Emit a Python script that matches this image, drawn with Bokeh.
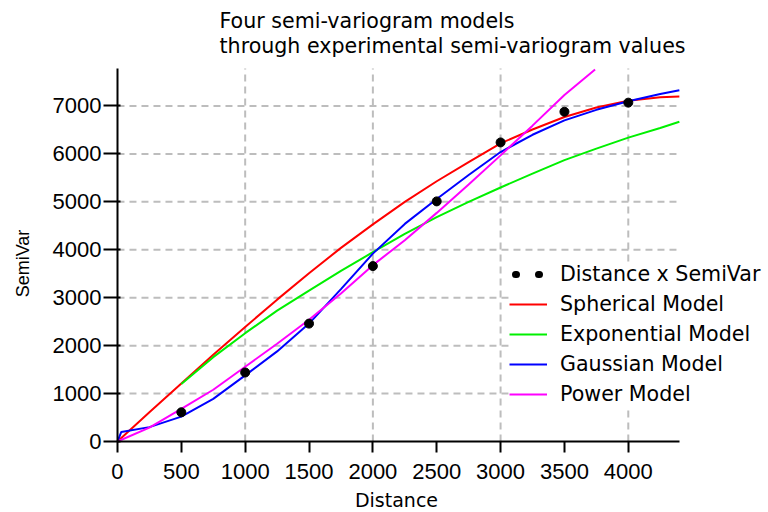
import math

from bokeh.plotting import figure
from bokeh.models import Range1d, FixedTicker, Legend, LegendItem, Label
from bokeh.embed import file_html
from bokeh.resources import INLINE

# Experimental semi-variogram values
lag_distance = [500, 1000, 1500, 2000, 2500, 3000, 3500, 4000]
semivar = [610, 1440, 2460, 3660, 5010, 6240, 6880, 7070]

# Fitted models, sampled along distance
model_x = [0, 250, 500, 750, 1000, 1250, 1500, 1750, 2000, 2250, 2500,
           2750, 3000, 3250, 3500, 3750, 4000, 4250, 4400]
spherical = [0, 610, 1210, 1810, 2390, 2960, 3510, 4040, 4530, 5000, 5430,
             5830, 6220, 6510, 6770, 6970, 7110, 7180, 7200]

exp_x = [500, 750, 1000, 1250, 1500, 1750, 2000, 2250, 2500, 2750, 3000,
         3250, 3500, 3750, 4000, 4250, 4400]
exponential = [1200, 1760, 2260, 2730, 3150, 3560, 3950, 4330, 4680, 5000,
               5300, 5590, 5870, 6110, 6340, 6540, 6670]

gauss_x = [0, 30, 250, 500, 750, 1000, 1250, 1500, 1750, 2000, 2250, 2500,
           2750, 3000, 3250, 3500, 3750, 4000, 4250, 4400]
gaussian = [0, 200, 300, 520, 890, 1380, 1880, 2460, 3180, 3920, 4540, 5060,
            5560, 6040, 6400, 6700, 6920, 7100, 7250, 7330]

power_x = [0, 250, 500, 750, 1000, 1250, 1500, 1750, 2000, 2250, 2500, 2750,
           3000, 3250, 3500, 3740]
power = [0, 290, 680, 1080, 1560, 2040, 2540, 3090, 3680, 4200, 4770, 5360,
         5970, 6590, 7230, 7760]

# Axis extents, ticks and grid positions
X_MAX = 4400
Y_MAX = 7780
x_ticks = [0, 500, 1000, 1500, 2000, 2500, 3000, 3500, 4000]
y_ticks = [0, 1000, 2000, 3000, 4000, 5000, 6000, 7000]
x_grid = [1000, 2000, 3000, 4000]
y_grid = [1000, 2000, 3000, 4000, 5000, 6000, 7000]

title_lines = ["Four semi-variogram models",
               "through experimental semi-variogram values"]
x_label = "Distance"
y_label = "SemiVar"
legend_labels = ["Distance x SemiVar", "Spherical Model", "Exponential Model",
                 "Gaussian Model", "Power Model"]

BITMAP_FONT = "DejaVu Sans"
TICK_FONT = "Liberation Sans"

# The plotting area covers the whole canvas; both axes are pinned to the
# data origin and bounded to the data extents, and the title, axis labels
# and legend are placed as annotations around them.
p = figure(width=768, height=512, output_backend="svg", toolbar_location=None,
           x_range=Range1d(-916, 5098), y_range=Range1d(-1481, 9201),
           min_border_left=0, min_border_right=0,
           min_border_top=0, min_border_bottom=0)
p.title_location = None
p.outline_line_color = None
p.background_fill_color = "white"
p.border_fill_color = "white"
p.xgrid.visible = False
p.ygrid.visible = False

# axes
for ax in (p.xaxis[0], p.yaxis[0]):
    ax.axis_line_width = 2
    ax.axis_line_color = "black"
    ax.major_tick_line_width = 2
    ax.major_tick_line_color = "black"
    ax.minor_tick_line_color = None
    ax.major_label_text_font = TICK_FONT
    ax.major_label_text_font_size = "22px"
    ax.major_label_text_color = "black"

p.xaxis.fixed_location = 0
p.xaxis.bounds = (0, X_MAX)
p.xaxis.ticker = FixedTicker(ticks=x_ticks)
p.xaxis.major_tick_out = 11
p.xaxis.major_tick_in = 0
p.xaxis.major_label_standoff = 11

p.yaxis.fixed_location = 0
p.yaxis.bounds = (0, Y_MAX)
p.yaxis.ticker = FixedTicker(ticks=y_ticks)
p.yaxis.major_tick_out = 14
p.yaxis.major_tick_in = 3
p.yaxis.major_label_standoff = 2

# dashed grid, limited to the axis extents
grid_style = dict(line_color="#bdbdbd", line_width=2, line_dash="7 5",
                  level="underlay")
p.segment(x0=x_grid, y0=[0] * len(x_grid), x1=x_grid, y1=[Y_MAX] * len(x_grid),
          **grid_style)
p.segment(x0=[0] * len(y_grid), y0=y_grid, x1=[X_MAX] * len(y_grid), y1=y_grid,
          **grid_style)

# model curves
r_sph = p.line(model_x, spherical, line_color="#ff0000", line_width=2)
r_exp = p.line(exp_x, exponential, line_color="#00f000", line_width=2)
r_gau = p.line(gauss_x, gaussian, line_color="#0000ff", line_width=2)
r_pow = p.line(power_x, power, line_color="#ff00ff", line_width=2)

# experimental points
p.scatter(lag_distance, semivar, size=9, marker="circle",
          fill_color="black", line_color="black")

# legend key for the points, drawn as two dots (the renderer itself is hidden)
dots_key = p.line(lag_distance, semivar, line_color="black", line_width=7,
                  line_cap="round", line_dash="1 22", line_dash_offset=17,
                  visible=False)

legend = Legend(
    items=[LegendItem(label=legend_labels[0], renderers=[dots_key]),
           LegendItem(label=legend_labels[1], renderers=[r_sph]),
           LegendItem(label=legend_labels[2], renderers=[r_exp]),
           LegendItem(label=legend_labels[3], renderers=[r_gau]),
           LegendItem(label=legend_labels[4], renderers=[r_pow])],
    location=(509, 106), orientation="vertical",
    border_line_color=None, background_fill_color="white",
    background_fill_alpha=1.0, padding=6, margin=0, spacing=6,
    glyph_width=38, glyph_height=24, label_height=24, label_standoff=13,
    label_text_font=BITMAP_FONT, label_text_font_size="20.6px",
    label_text_color="black", inactive_fill_alpha=0.0)
p.add_layout(legend)

# two-line title
for i, line in enumerate(title_lines):
    p.add_layout(Label(x=219, y=492 - 25 * i, x_units="screen", y_units="screen",
                       text=line, text_font=BITMAP_FONT, text_font_size="20.6px",
                       text_color="black", text_baseline="alphabetic"))

# axis labels
p.add_layout(Label(x=396, y=13, x_units="screen", y_units="screen",
                   text=x_label, text_font=BITMAP_FONT, text_font_size="19px",
                   text_color="black", text_align="center",
                   text_baseline="alphabetic"))
p.add_layout(Label(x=22, y=249, x_units="screen", y_units="screen",
                   text=y_label, text_font=TICK_FONT, text_font_size="18px",
                   angle=math.pi / 2, text_color="black", text_align="center",
                   text_baseline="middle"))

open("out.html", "w").write(file_html(p, INLINE))
